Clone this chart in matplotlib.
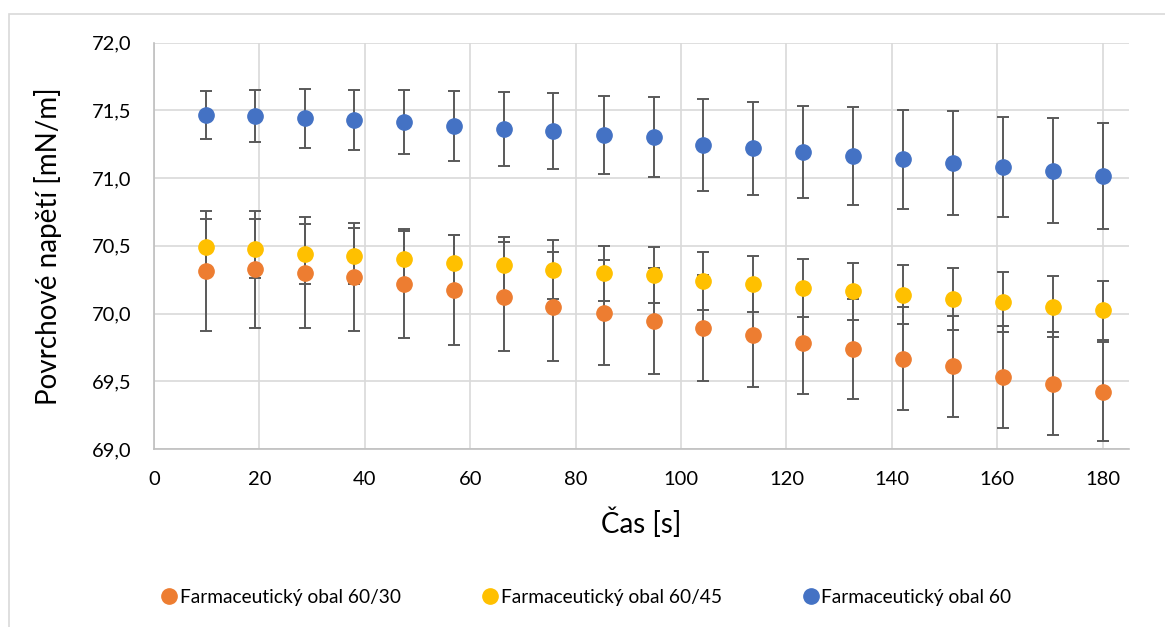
import matplotlib.pyplot as plt
from matplotlib.patches import Rectangle

plt.rcParams['font.family'] = ['Lato', 'DejaVu Sans']

# time [s]
cas = [9.8, 19.2, 28.6, 38.0, 47.5, 56.9, 66.4, 75.8, 85.3, 94.8,
       104.2, 113.7, 123.2, 132.7, 142.1, 151.6, 161.1, 170.5, 180.0]

# Farmaceuticky obal 60/30
obal_60_30 = [70.313, 70.327, 70.303, 70.271, 70.222, 70.174, 70.126, 70.052, 70.007, 69.945,
              69.894, 69.840, 69.786, 69.738, 69.667, 69.611, 69.531, 69.483, 69.423]
err_60_30 = [0.441, 0.431, 0.411, 0.397, 0.399, 0.404, 0.404, 0.399, 0.389, 0.392,
             0.389, 0.382, 0.379, 0.372, 0.382, 0.374, 0.379, 0.379, 0.367]

# Farmaceuticky obal 60/45
obal_60_45 = [70.492, 70.480, 70.443, 70.423, 70.404, 70.377, 70.355, 70.325, 70.296, 70.283,
              70.241, 70.217, 70.189, 70.163, 70.140, 70.108, 70.086, 70.052, 70.024]
err_60_45 = [0.203, 0.219, 0.222, 0.207, 0.207, 0.202, 0.207, 0.217, 0.204, 0.207,
             0.212, 0.209, 0.212, 0.209, 0.217, 0.227, 0.224, 0.222, 0.219]

# Farmaceuticky obal 60
obal_60 = [71.466, 71.460, 71.441, 71.429, 71.414, 71.384, 71.362, 71.347, 71.316, 71.305,
           71.244, 71.220, 71.192, 71.163, 71.138, 71.111, 71.081, 71.054, 71.017]
err_60 = [0.180, 0.194, 0.218, 0.224, 0.234, 0.256, 0.271, 0.281, 0.288, 0.293,
          0.338, 0.342, 0.340, 0.361, 0.364, 0.383, 0.367, 0.388, 0.392]

series = [
    ('Farmaceutický obal 60/30', obal_60_30, err_60_30, '#ED7D31'),
    ('Farmaceutický obal 60/45', obal_60_45, err_60_45, '#FFC000'),
    ('Farmaceutický obal 60', obal_60, err_60, '#4472C4'),
]

W, H = 1165, 627
fig = plt.figure(figsize=(W / 100, H / 100), dpi=100)
ax = fig.add_axes([154 / W, 1 - 449 / H, (1129 - 154) / W, (449 - 42.7) / H])

# error bars first, markers on top (like Excel)
for label, vals, errs, col in series:
    ax.errorbar(cas, vals, yerr=errs, fmt='none', ecolor='#595959',
                elinewidth=1.4, capsize=4.3, capthick=1.4, zorder=2)
handles = []
for label, vals, errs, col in series:
    h, = ax.plot(cas, vals, 'o', color=col, markersize=11, label=label, zorder=3)
    handles.append(h)

ax.set_xlim(0, 185)
ax.set_ylim(69.0, 72.0)
ax.set_xticks(range(0, 181, 20))
ax.set_yticks([69.0, 69.5, 70.0, 70.5, 71.0, 71.5, 72.0])
ax.set_yticklabels([f'{v:.1f}'.replace('.', ',') for v in ax.get_yticks()])

ax.grid(True, color='#D9D9D9', linewidth=1.2, zorder=0)
ax.set_axisbelow(True)
for s in ['top', 'right']:
    ax.spines[s].set_visible(False)
for s in ['left', 'bottom']:
    ax.spines[s].set_color('#BFBFBF')
    ax.spines[s].set_linewidth(1.2)
ax.tick_params(length=0, labelsize=14.5, colors='black')
ax.tick_params(axis='x', pad=16)
ax.tick_params(axis='y', pad=16)

ax.set_xlabel('Čas [s]', fontsize=20)
ax.set_ylabel('Povrchové napětí [mN/m]', fontsize=20)
ax.xaxis.set_label_coords(0.5, -0.145)
ax.yaxis.set_label_coords(-0.094, 0.5)

fig.legend(handles=handles, loc='center', bbox_to_anchor=(0.503, 1 - 597 / H),
           ncol=3, frameon=False, fontsize=13.8, handlelength=0.9,
           handletextpad=0.1, columnspacing=4.2, markerscale=1.0)

# chart area border
fig.patches.append(Rectangle((8.5 / W, -0.1), 1.2, 1 - 13.5 / H + 0.1,
                             transform=fig.transFigure, fill=False,
                             edgecolor='#D9D9D9', linewidth=1.2))

fig.savefig('out.png', dpi=100)
